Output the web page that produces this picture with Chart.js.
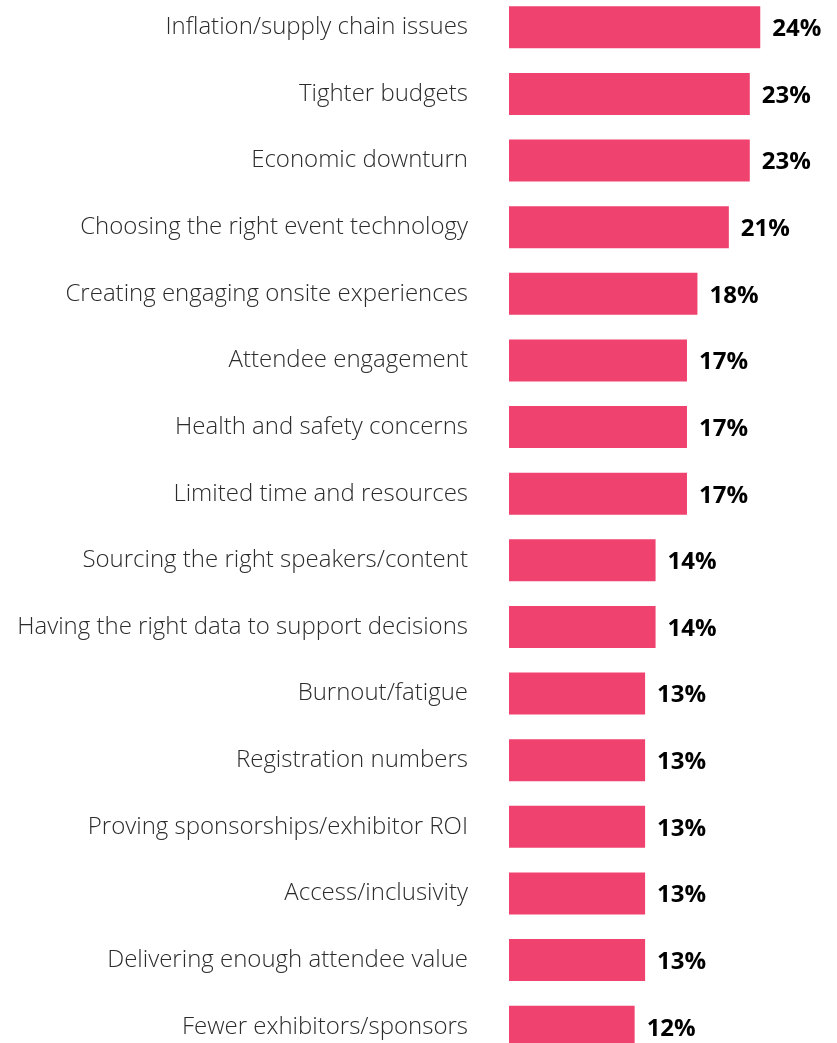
<!DOCTYPE html>
<html>
<head>
<meta charset="utf-8">
<script src="https://cdn.jsdelivr.net/npm/chart.js@4/dist/chart.umd.min.js"></script>
<style>
  html, body { margin: 0; padding: 0; background: #ffffff; overflow: hidden; }
  #wrap { position: absolute; left: 0; top: -6px; width: 837px; height: 1066px; }
</style>
</head>
<body>
<div id="wrap"><canvas id="chart" width="837" height="1066"></canvas></div>
<script>
const categories = [
  "Inflation/supply chain issues",
  "Tighter budgets",
  "Economic downturn",
  "Choosing the right event technology",
  "Creating engaging onsite experiences",
  "Attendee engagement",
  "Health and safety concerns",
  "Limited time and resources",
  "Sourcing the right speakers/content",
  "Having the right data to support decisions",
  "Burnout/fatigue",
  "Registration numbers",
  "Proving sponsorships/exhibitor ROI",
  "Access/inclusivity",
  "Delivering enough attendee value",
  "Fewer exhibitors/sponsors"
];
const shares = [24, 23, 23, 21, 18, 17, 17, 17, 14, 14, 13, 13, 13, 13, 13, 12];

// Writes "NN%" just past the end of each bar
const valueLabels = {
  id: "valueLabels",
  afterDatasetsDraw(chart) {
    const ctx = chart.ctx;
    const meta = chart.getDatasetMeta(0);
    ctx.save();
    ctx.font = "bold 24px 'Open Sans', sans-serif";
    ctx.fillStyle = "#000000";
    ctx.textAlign = "left";
    ctx.textBaseline = "middle";
    meta.data.forEach((bar, i) => {
      ctx.fillText(shares[i] + "%", bar.x + 12, bar.y + 2);
    });
    ctx.restore();
  }
};

new Chart(document.getElementById("chart"), {
  type: "bar",
  data: {
    labels: categories,
    datasets: [{
      data: shares,
      backgroundColor: "#ef426f",
      borderWidth: 0,
      barPercentage: 0.63,
      categoryPercentage: 1
    }]
  },
  options: {
    indexAxis: "y",
    responsive: false,
    animation: false,
    devicePixelRatio: 1,
    layout: { padding: 0 },
    plugins: {
      legend: { display: false },
      tooltip: { enabled: false }
    },
    scales: {
      x: {
        display: false,
        min: 0,
        max: 31.33
      },
      y: {
        grid: { display: false, drawTicks: false, tickLength: 0 },
        border: { display: false },
        ticks: {
          color: "#2b2b2b",
          padding: 41,
          font: { family: "'Open Sans', sans-serif", size: 24, weight: "300" }
        },
        afterFit(scale) {
          scale.width = 509;
          // keep the label gap from adding space above and below the bars
          scale.paddingTop = 0;
          scale.paddingBottom = 0;
        }
      }
    }
  },
  plugins: [valueLabels]
});
</script>
</body>
</html>
